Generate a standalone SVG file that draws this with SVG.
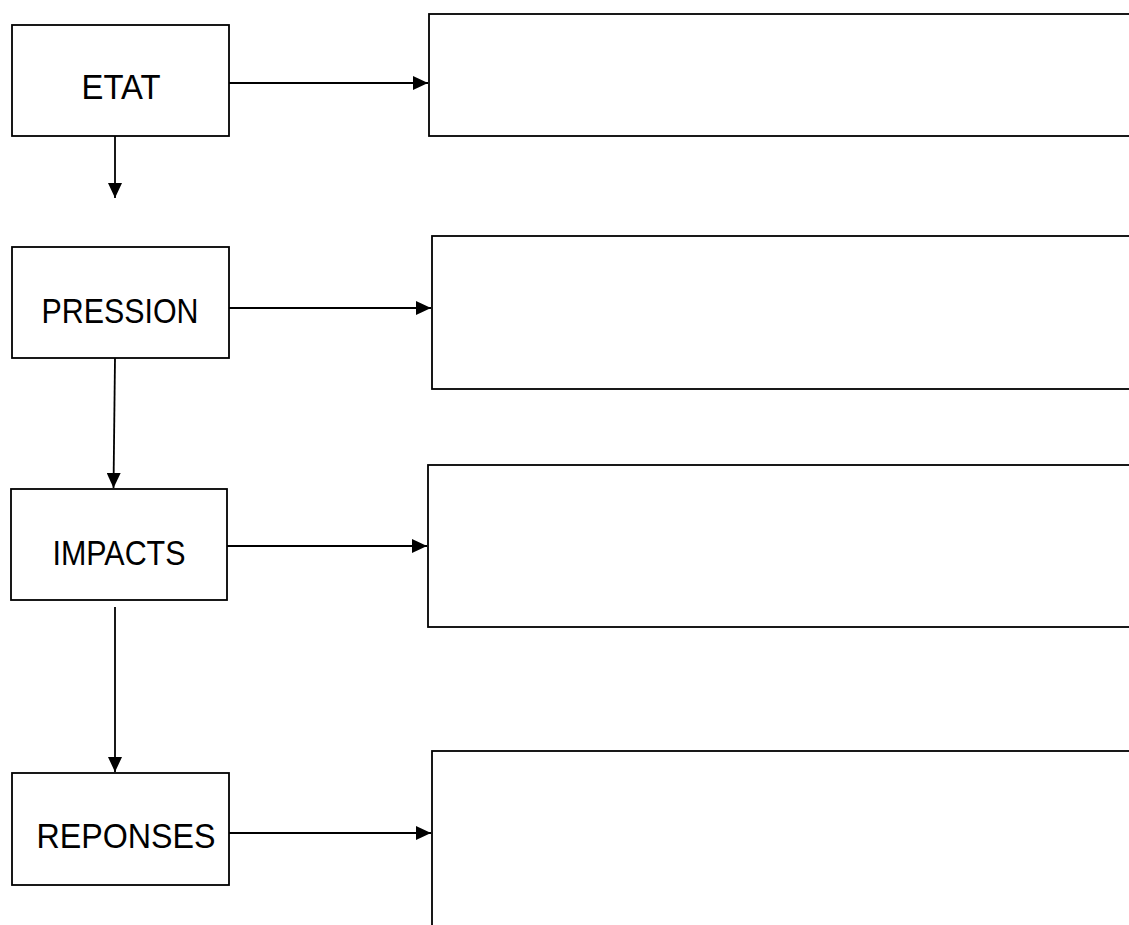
<svg xmlns="http://www.w3.org/2000/svg" width="1129" height="925" viewBox="0 0 1129 925">
<style>
.box{fill:#ffffff;stroke:#000000;stroke-width:1.8}
.lbl{font-family:"Liberation Sans",Arial,sans-serif;font-size:35.5px;fill:#000000;text-anchor:middle}
.con{fill:none;stroke:#000000;stroke-width:1.8;marker-end:url(#arr)}
</style>
<defs>
<marker id="arr" viewBox="0 0 15 14" refX="15" refY="7" markerWidth="15" markerHeight="14" markerUnits="userSpaceOnUse" orient="auto">
<path d="M0,0 L15,7 L0,14 Z" fill="#000000"/>
</marker>
</defs>
<rect width="1129" height="925" fill="#ffffff"/>
<g id="etat"><rect class="box" x="12" y="25" width="217" height="111"/><text class="lbl" x="121" y="99.3" textLength="79" lengthAdjust="spacingAndGlyphs">ETAT</text></g>
<g id="pression"><rect class="box" x="12" y="247" width="217" height="111"/><text class="lbl" x="120" y="322.7" textLength="157" lengthAdjust="spacingAndGlyphs">PRESSION</text></g>
<g id="impacts"><rect class="box" x="11" y="489" width="216" height="111"/><text class="lbl" x="119" y="565" textLength="133" lengthAdjust="spacingAndGlyphs">IMPACTS</text></g>
<g id="reponses"><rect class="box" x="12" y="773" width="217" height="112"/><text class="lbl" x="126" y="848.3" textLength="179" lengthAdjust="spacingAndGlyphs">REPONSES</text></g>
<g id="box-etat"><rect class="box" x="429" y="14" width="800" height="122"/></g>
<g id="box-pression"><rect class="box" x="432" y="236" width="800" height="153"/></g>
<g id="box-impacts"><rect class="box" x="428" y="465" width="800" height="162"/></g>
<g id="box-reponses"><rect class="box" x="432" y="751" width="800" height="300"/></g>
<g id="connectors">
<line class="con" x1="229" y1="83" x2="428" y2="83"/>
<line class="con" x1="229" y1="308" x2="431" y2="308"/>
<line class="con" x1="227" y1="546" x2="427" y2="546"/>
<line class="con" x1="229" y1="833" x2="431" y2="833"/>
<line class="con" x1="115" y1="136" x2="115" y2="198"/>
<line class="con" x1="115" y1="358" x2="113.5" y2="488"/>
<line class="con" x1="115" y1="607" x2="115" y2="772"/>
</g>
</svg>
